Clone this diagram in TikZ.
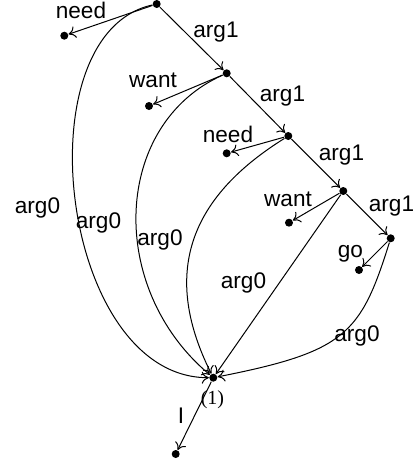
\documentclass[tikz,border=0pt]{standalone}
\usepackage{fontspec}
\setmainfont{Liberation Sans}
\newfontfamily\numfont{Liberation Serif}
\usetikzlibrary{arrows.meta}

\begin{document}
\begin{tikzpicture}[x=0.5pt,y=0.5pt,>={To[length=3.5pt,width=6pt]},line width=0.5pt,
 font=\fontsize{11.3}{13}\selectfont,
 dot/.style={circle,fill,inner sep=0pt,minimum size=4pt},
 lbl/.style={inner sep=0pt}]
\useasboundingbox (0,0) rectangle (417,463);
% chain of arg1
\node[dot] (n0) at (156.7,459) {};
\node[dot] (n1) at (226.7,389.7) {};
\node[dot] (n2) at (288.3,327) {};
\node[dot] (n3) at (343.3,272) {};
\node[dot] (n4) at (390.7,224.7) {};
\node[dot] (c) at (213.3,85.3) {};
% leaves
\node[dot] (l0) at (64.3,427.3) {};
\node[dot] (l1) at (149,357) {};
\node[dot] (l2) at (226.7,309.7) {};
\node[dot] (l3) at (289,240.3) {};
\node[dot] (l4) at (359,193) {};
\node[dot] (lI) at (175.7,9) {};
\draw[->] (n0) -- (n1);
\draw[->] (n1) -- (n2);
\draw[->] (n2) -- (n3);
\draw[->] (n3) -- (n4);
\draw[->] (n0) -- (l0);
\draw[->] (n1) -- (l1);
\draw[->] (n2) -- (l2);
\draw[->] (n3) -- (l3);
\draw[->] (n4) -- (l4);
% arg0 edges
\draw[->] (n0) .. controls +(-136,-30) and +(-153,0) .. (c);
\draw[->] (n1) .. controls +(-114,-51) and +(-107,90) .. (c);
\draw[->] (n2) .. controls +(-93,-58) and +(-55,110) .. (c);
\draw[->] (n3) -- (c);
\draw[->] (n4) .. controls +(-30,-96) and +(132,26) .. (c);
\draw[->] (c) -- (lI);
% labels
\node[lbl] (tneed) at (81,453) {need};
\node[lbl] (ta1) at (216,431) {arg1};
\node[lbl] (twant) at (153,383) {want};
\node[lbl] (tb1) at (282.5,366.5) {arg1};
\node[lbl] (tneedb) at (228,328.5) {need};
\node[lbl] (tc1) at (341.5,307.5) {arg1};
\node[lbl] (twantb) at (288,263.5) {want};
\node[lbl] (td1) at (391.5,256.5) {arg1};
\node[lbl] (tgo) at (350.5,209) {go};
\node[lbl] (ta0) at (37.5,255) {arg0};
\node[lbl] (tb0) at (98.5,240.5) {arg0};
\node[lbl] (tc0) at (160,223) {arg0};
\node[lbl] (td0) at (243.5,180.5) {arg0};
\node[lbl] (te0) at (357,127) {arg0};
\node[lbl,font=\numfont\fontsize{10}{12}\selectfont] (tone) at (212.5,63) {(1)};
\node[lbl] (tI) at (181,47.5) {I};
\end{tikzpicture}
\end{document}
